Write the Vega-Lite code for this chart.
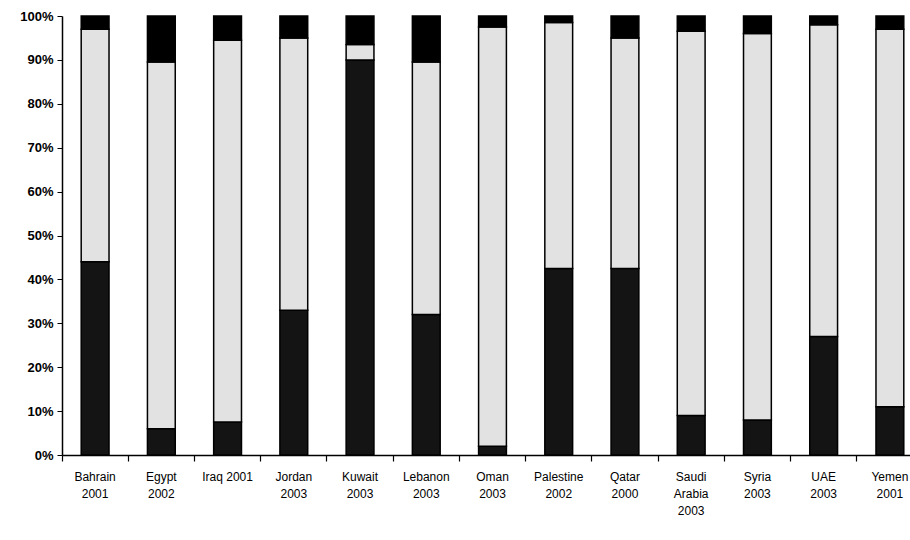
{
  "$schema": "https://vega.github.io/schema/vega-lite/v6.json",
  "autosize": "none",
  "width": 848,
  "height": 439,
  "padding": {"left": 62, "top": 16, "right": 0, "bottom": 85},
  "background": "white",
  "config": {"view": {"stroke": null}, "font": "Liberation Sans"},
  "data": {
    "values": [
      {"country": "Bahrain|2001", "segment": "a", "value": 44},
      {"country": "Bahrain|2001", "segment": "b", "value": 53},
      {"country": "Bahrain|2001", "segment": "c", "value": 3},
      {"country": "Egypt|2002", "segment": "a", "value": 6},
      {"country": "Egypt|2002", "segment": "b", "value": 83.5},
      {"country": "Egypt|2002", "segment": "c", "value": 10.5},
      {"country": "Iraq 2001", "segment": "a", "value": 7.5},
      {"country": "Iraq 2001", "segment": "b", "value": 87},
      {"country": "Iraq 2001", "segment": "c", "value": 5.5},
      {"country": "Jordan|2003", "segment": "a", "value": 33},
      {"country": "Jordan|2003", "segment": "b", "value": 62},
      {"country": "Jordan|2003", "segment": "c", "value": 5},
      {"country": "Kuwait|2003", "segment": "a", "value": 90},
      {"country": "Kuwait|2003", "segment": "b", "value": 3.5},
      {"country": "Kuwait|2003", "segment": "c", "value": 6.5},
      {"country": "Lebanon|2003", "segment": "a", "value": 32},
      {"country": "Lebanon|2003", "segment": "b", "value": 57.5},
      {"country": "Lebanon|2003", "segment": "c", "value": 10.5},
      {"country": "Oman|2003", "segment": "a", "value": 2},
      {"country": "Oman|2003", "segment": "b", "value": 95.5},
      {"country": "Oman|2003", "segment": "c", "value": 2.5},
      {"country": "Palestine|2002", "segment": "a", "value": 42.5},
      {"country": "Palestine|2002", "segment": "b", "value": 56},
      {"country": "Palestine|2002", "segment": "c", "value": 1.5},
      {"country": "Qatar|2000", "segment": "a", "value": 42.5},
      {"country": "Qatar|2000", "segment": "b", "value": 52.5},
      {"country": "Qatar|2000", "segment": "c", "value": 5},
      {"country": "Saudi|Arabia|2003", "segment": "a", "value": 9},
      {"country": "Saudi|Arabia|2003", "segment": "b", "value": 87.5},
      {"country": "Saudi|Arabia|2003", "segment": "c", "value": 3.5},
      {"country": "Syria|2003", "segment": "a", "value": 8},
      {"country": "Syria|2003", "segment": "b", "value": 88},
      {"country": "Syria|2003", "segment": "c", "value": 4},
      {"country": "UAE|2003", "segment": "a", "value": 27},
      {"country": "UAE|2003", "segment": "b", "value": 71},
      {"country": "UAE|2003", "segment": "c", "value": 2},
      {"country": "Yemen|2001", "segment": "a", "value": 11},
      {"country": "Yemen|2001", "segment": "b", "value": 86},
      {"country": "Yemen|2001", "segment": "c", "value": 3}
    ]
  },
  "mark": {"type": "bar", "width": {"band": 0.42}, "stroke": "black", "strokeWidth": 1.5},
  "encoding": {
    "x": {
      "field": "country",
      "type": "nominal",
      "sort": null,
      "scale": {"range": [0, 861], "paddingInner": 0, "paddingOuter": 0},
      "axis": {
        "title": null,
        "labelAngle": 0,
        "labelExpr": "split(datum.value, '|')",
        "labelFont": "Liberation Sans",
        "labelFontSize": 12,
        "labelColor": "black",
        "labelLineHeight": 17,
        "labelPadding": 10,
        "bandPosition": 0,
        "tickSize": 6,
        "tickColor": "black",
        "domainColor": "black",
        "domainWidth": 1.5,
        "tickWidth": 1.2,
        "labelBaseline": "top"
      }
    },
    "y": {
      "field": "value",
      "type": "quantitative",
      "stack": "normalize",
      "scale": {"domain": [0, 1]},
      "axis": {
        "title": null,
        "format": ".0%",
        "values": [0, 0.1, 0.2, 0.3, 0.4, 0.5, 0.6, 0.7, 0.8, 0.9, 1],
        "grid": false,
        "labelFontSize": 13,
        "labelFontWeight": "bold",
        "labelColor": "black",
        "tickColor": "black",
        "domainColor": "black",
        "domainWidth": 1.5,
        "tickSize": 5,
        "labelPadding": 4
      }
    },
    "color": {
      "field": "segment",
      "type": "nominal",
      "legend": null,
      "scale": {"domain": ["a", "b", "c"], "range": ["#141414", "#e2e2e2", "#000000"]}
    },
    "order": {"field": "segment", "sort": "ascending"}
  }
}
